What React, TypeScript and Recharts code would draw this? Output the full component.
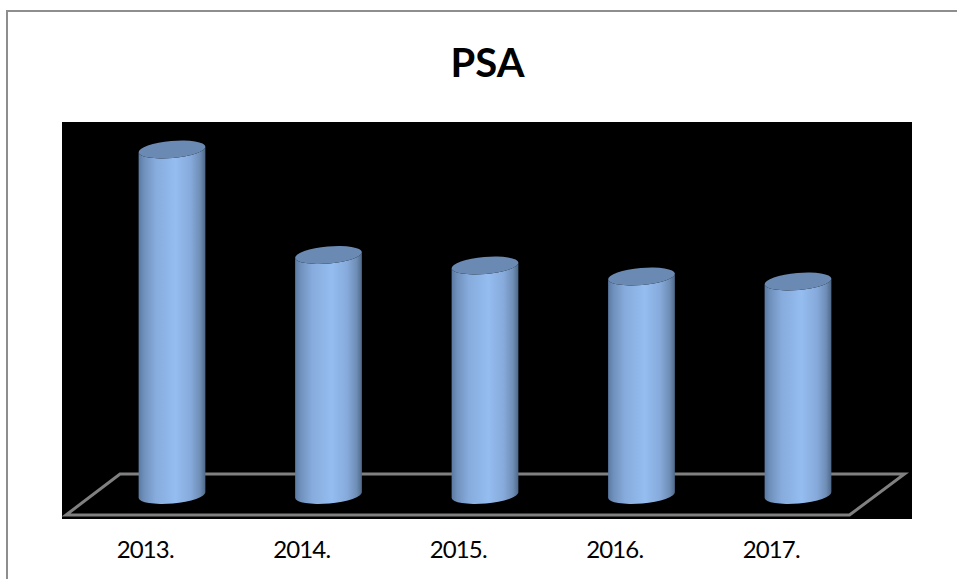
import React from "react";
import { BarChart, Bar, XAxis, YAxis, ReferenceArea } from "recharts";

const categories = ["2013.", "2014.", "2015.", "2016.", "2017."];
const psaValues = [345.5, 240, 229.5, 218.5, 213.5];
const floorDepth = 41;
const data = categories.map((year, i) => ({ year, psa: psaValues[i] }));

const SHIFT_X = 26.5;
const SHIFT_Y = -20;
const RY = 8.5;
const TILT = -5;

const Cylinder = (props: any) => {
  const { x, y, width, height } = props;
  const a = width / 2;
  const cx = x + a + SHIFT_X;
  const topY = y + SHIFT_Y;
  const botY = y + height + SHIFT_Y;
  const ex = a * Math.cos((TILT * Math.PI) / 180);
  const ey = a * Math.sin((TILT * Math.PI) / 180);
  const side = `M${cx - ex},${topY - ey} L${cx - ex},${botY - ey} A${a},${RY} ${TILT} 0 0 ${cx + ex},${botY + ey} L${cx + ex},${topY + ey} A${a},${RY} ${TILT} 0 1 ${cx - ex},${topY - ey} Z`;
  return (
    <g>
      <path d={side} fill="url(#cyl)" />
      <ellipse cx={cx} cy={topY} rx={a} ry={RY} fill="#6b8ab3" transform={`rotate(${TILT} ${cx} ${topY})`} />
    </g>
  );
};

const Floor = (props: any) => {
  const { x, y, width, height } = props;
  const back = 55;
  const pts = `${x - 1},${y + height} ${x + width},${y + height} ${x + width + back},${y} ${x - 1 + back - 1},${y}`;
  return <polygon points={pts} fill="none" stroke="#808080" strokeWidth={3} strokeLinejoin="miter" />;
};

export default function App() {
  return (
    <div style={{ position: "absolute", left: 0, top: 0, width: 957, height: 579, background: "#fff", overflow: "hidden" }}>
      <div style={{ position: "absolute", left: 6, top: 10, width: 951, height: 569, borderLeft: "2px solid #8e8e8e", borderTop: "2px solid #8e8e8e", boxSizing: "border-box" }} />
      <div style={{ position: "absolute", left: 62, top: 122, width: 850, height: 397, background: "#000" }} />
      <div style={{ position: "absolute", left: 0, top: 0 }}>
        <BarChart
          width={957}
          height={579}
          data={data}
          margin={{ top: 122, right: 107.5, bottom: 34, left: 67 }}
          barCategoryGap={0}
        >
          <defs>
            <linearGradient id="cyl" x1="0" y1="0" x2="1" y2="0">
              <stop offset="0" stopColor="#5a7aa3" />
              <stop offset="0.08" stopColor="#6f90bb" />
              <stop offset="0.25" stopColor="#86abdc" />
              <stop offset="0.55" stopColor="#95bdf0" />
              <stop offset="0.78" stopColor="#86aadb" />
              <stop offset="0.92" stopColor="#6f8eb6" />
              <stop offset="1" stopColor="#4e6888" />
            </linearGradient>
          </defs>
          <text x={487.5} y={77} textAnchor="middle" fontFamily="Lato" fontWeight={700} fontSize={40} fill="#000">PSA</text>
          <XAxis
            dataKey="year"
            axisLine={false}
            tickLine={false}
            height={30}
            tickMargin={20}
            tick={{ fill: "#000", fontFamily: "Lato", fontSize: 24, letterSpacing: -0.9 }}
          />
          <YAxis hide domain={[0, 393]} />
          <ReferenceArea y1={0} y2={floorDepth} ifOverflow="visible" shape={Floor} />
          <Bar dataKey="psa" barSize={67} isAnimationActive={false} shape={Cylinder} />
        </BarChart>
      </div>
    </div>
  );
}
